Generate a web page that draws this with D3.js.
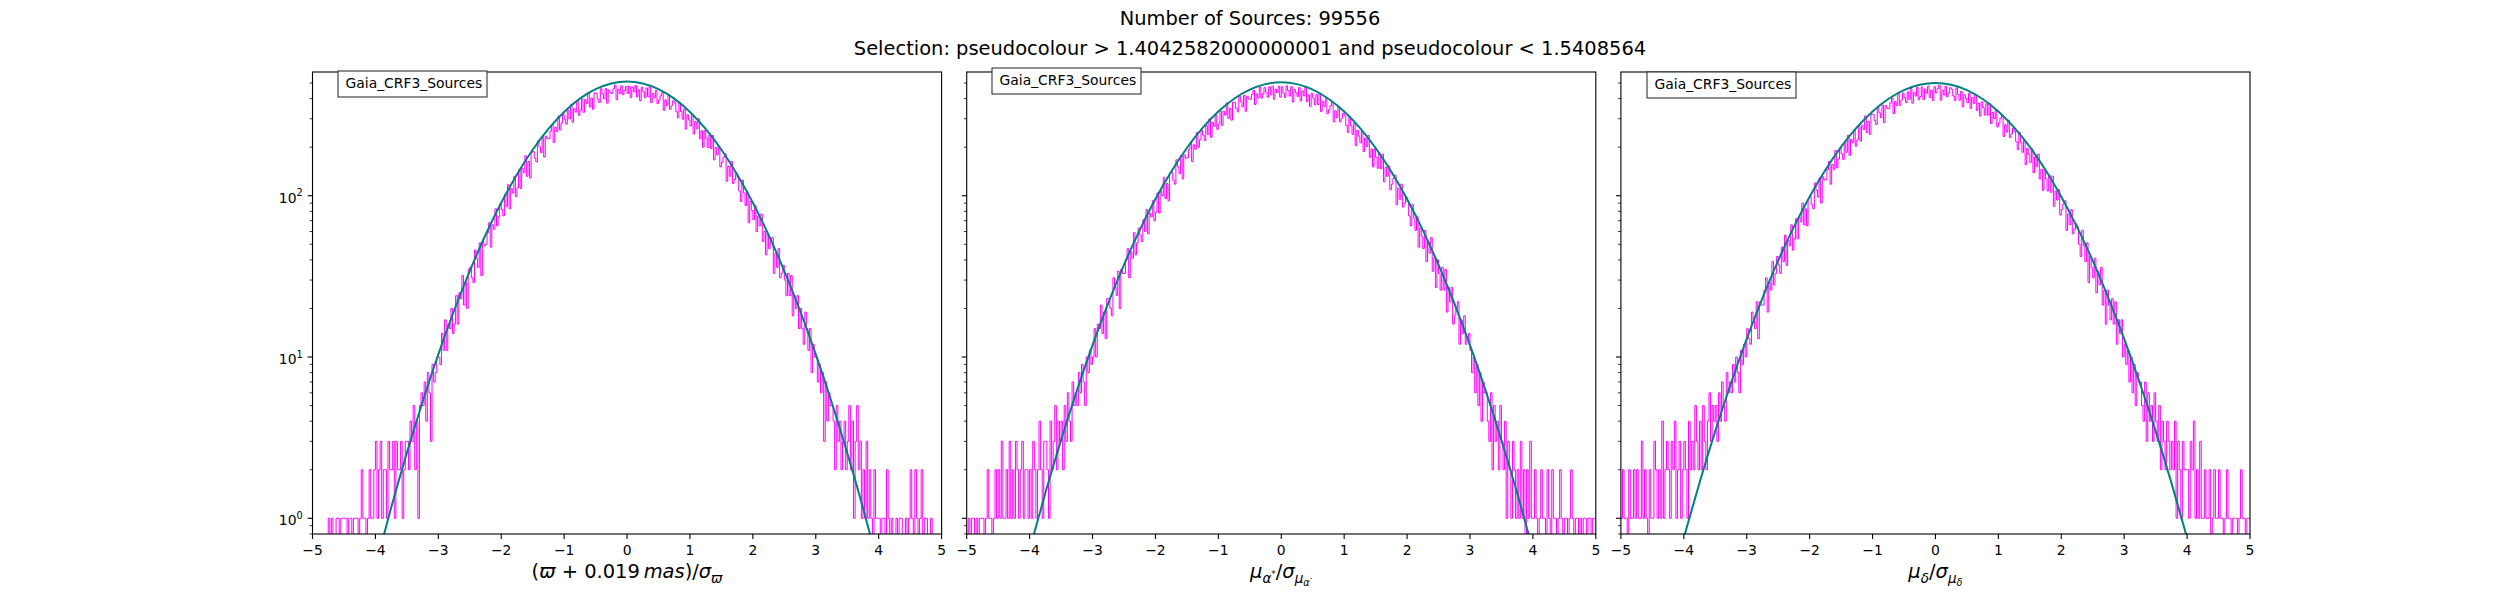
<!DOCTYPE html>
<html><head><meta charset="utf-8">
<script src="https://cdn.jsdelivr.net/npm/d3@7"></script>
<style>body{margin:0;background:#fff}svg{display:block;font-family:"DejaVu Sans",sans-serif}</style>
</head><body><svg id="c" width="2500" height="600"></svg>
<script>
const titleLines = ["Number of Sources: 99556", "Selection: pseudocolour > 1.4042582000000001 and pseudocolour < 1.5408564"];
const legendLabel = "Gaia_CRF3_Sources";
const xTicks = [-5,-4,-3,-2,-1,0,1,2,3,4,5];
const xTickLabels = ["\u22125","\u22124","\u22123","\u22122","\u22121","0","1","2","3","4","5"];
const yMajorTicks = [1,10,100];
const yTickExponents = ["0","1","2"];
const yMinorTicks = [0.8,0.9,2,3,4,5,6,7,8,9,20,30,40,50,60,70,80,90,200,300,400,500];
const binStart = -5, binWidth = 0.025, binCount = 400;

const countsParallax = [
0,0,0,0,0,0,0,0,0,0,
1,0,1,0,0,1,1,0,1,1,
1,1,0,1,1,0,1,1,1,0,
1,2,1,1,0,1,2,1,1,2,
3,1,2,3,1,2,2,1,3,2,
2,3,1,3,2,2,3,1,2,3,
3,2,4,3,5,2,4,1,5,6,
5,7,4,8,6,3,9,7,8,10,
10,9,14,11,17,11,16,15,20,14,
16,24,16,25,23,32,21,29,20,35,
36,31,29,46,41,36,51,32,52,49,
50,59,68,48,66,62,83,65,74,89,
82,75,102,86,117,83,111,104,132,99,
112,145,111,148,139,177,132,163,129,186,
188,171,162,219,201,185,232,174,234,225,
226,252,277,214,266,250,312,256,282,320,
298,278,338,299,366,286,346,330,386,315,
338,397,329,394,372,435,355,403,344,434,
432,398,379,461,427,400,461,375,453,436,
431,460,485,394,456,429,480,423,449,476,
430,478,407,471,441,482,410,453,388,471,
440,405,465,411,473,378,431,405,450,373,
393,416,435,339,393,361,420,344,361,388,
377,332,304,376,333,298,345,259,318,295,
271,316,242,289,260,300,226,253,200,254,
228,199,238,196,236,167,199,179,203,151,
161,173,182,123,152,132,163,119,126,137,
129,107,92,125,104,87,106,68,92,81,
71,87,60,75,65,77,52,60,43,58,
47,52,55,33,44,36,47,31,33,37,
30,24,33,24,32,18,24,20,24,15,
20,15,12,19,15,11,15,8,12,10,
10,7,9,6,8,3,7,4,6,5,
5,4,2,5,3,4,2,3,4,2,
3,5,2,4,1,3,5,2,3,1,
2,1,3,1,2,1,0,2,1,1,
1,0,1,1,0,2,1,0,1,0,
0,1,0,1,1,0,0,1,0,1,
2,1,0,2,1,0,1,2,0,1,
1,0,0,1,0,0,0,0,0,0];

const countsPmra = [
0,1,0,1,1,0,1,0,1,1,
1,0,1,2,1,1,0,1,2,1,
2,1,3,1,1,2,1,3,1,2,
1,3,2,1,2,3,1,2,2,1,
2,1,3,2,1,2,4,2,1,3,
3,2,1,4,2,3,5,2,4,3,
4,2,5,3,6,4,3,7,5,6,
5,8,6,9,7,5,10,8,11,9,
10,15,10,16,15,21,14,19,13,23,
23,20,18,31,27,24,34,20,35,33,
33,40,47,31,45,41,59,43,51,63,
57,52,71,60,82,58,78,74,93,70,
79,104,78,107,100,130,96,119,93,138,
140,125,118,167,151,137,178,127,179,171,
172,194,215,163,207,194,247,200,222,255,
237,220,273,240,300,230,284,270,321,258,
279,335,273,334,316,376,302,348,294,380,
380,349,331,414,382,356,419,334,414,399,
396,425,450,368,427,404,472,403,429,468,
439,408,473,422,478,397,458,435,476,409,
474,432,407,480,449,415,474,381,456,435,
413,468,387,446,416,469,383,421,358,432,
403,366,424,368,429,333,384,357,400,323,
341,362,379,287,336,305,359,287,302,325,
314,273,247,311,271,240,280,205,255,234,
213,252,188,228,202,236,173,195,151,195,
173,148,183,147,181,122,150,132,153,109,
118,128,134,88,111,95,118,85,90,98,
92,75,65,88,73,61,74,48,63,56,
47,61,39,52,44,55,34,41,27,40,
33,26,36,26,35,19,27,22,27,16,
18,20,22,12,17,14,18,12,13,14,
11,8,10,6,9,5,8,4,7,6,
6,4,3,6,2,5,3,4,2,5,
3,2,4,1,3,2,1,3,2,1,
2,1,3,1,2,0,2,1,3,1,
1,2,1,0,1,2,1,1,0,2,
1,0,2,1,1,0,1,2,1,0,
1,1,0,1,2,1,0,1,1,0,
1,0,1,1,0,1,1,0,1,1];

const countsPmdec = [
1,2,1,1,0,2,1,1,2,1,
2,1,1,3,1,2,1,0,2,1,
1,3,2,1,2,1,4,1,2,3,
2,1,3,2,4,1,2,3,1,2,
3,2,1,4,2,3,2,5,3,2,
4,2,5,3,2,4,6,3,5,4,
5,3,6,4,7,5,4,8,6,7,
6,9,7,10,8,6,11,9,12,10,
15,13,12,19,17,15,22,13,22,21,
21,26,31,19,29,26,39,28,33,42,
37,33,48,39,57,37,53,49,66,46,
54,72,54,74,69,90,66,83,65,96,
99,88,83,120,108,98,129,90,131,125,
126,145,163,118,156,145,191,149,169,198,
182,168,213,186,237,178,224,213,257,203,
222,272,218,273,257,312,246,289,240,319,
320,292,277,356,327,304,364,284,362,348,
347,377,404,323,384,362,432,364,392,433,
405,378,441,396,462,375,435,415,469,394,
412,472,395,459,432,478,407,452,389,474,
434,461,484,391,450,421,476,410,433,467,
457,415,389,466,424,391,444,356,422,401,
377,431,348,406,374,426,338,374,312,382,
352,316,371,316,372,280,328,301,339,267,
283,302,316,233,276,248,294,230,242,262,
251,216,193,247,213,186,220,156,197,180,
161,195,139,174,152,181,127,146,108,145,
127,107,134,105,132,86,107,94,109,76,
82,89,93,61,77,66,82,58,62,67,
64,50,42,61,49,39,51,29,42,36,
31,41,25,34,28,36,21,26,16,26,
21,17,23,16,22,12,17,14,17,10,
12,9,11,7,10,6,9,5,8,7,
7,5,4,7,3,6,4,5,3,6,
4,3,5,2,4,3,2,4,3,2,
3,2,4,1,3,2,1,3,2,2,
2,1,3,2,4,1,2,1,3,1,
1,2,1,1,2,0,1,2,1,1,
2,1,1,0,1,2,1,1,0,1,
1,1,0,1,2,1,1,0,1,1];

const curveX = [-5,-4.75,-4.5,-4.25,-4,-3.75,-3.5,-3.25,-3,-2.75,-2.5,-2.25,-2,-1.75,-1.5,-1.25,-1,-0.75,-0.5,-0.25,0,
  0.25,0.5,0.75,1,1.25,1.5,1.75,2,2.25,2.5,2.75,3,3.25,3.5,3.75,4,4.25,4.5,4.75,5];
const curveParallax = [0.0102,0.0294,0.080,0.206,0.502,1.162,2.545,5.28,10.38,19.35,34.1,57.1,90.4,135.6,192.7,259.4,330.9,399.8,457.7,496.4,510,
  496.4,457.7,399.8,330.9,259.4,192.7,135.6,90.4,57.1,34.1,19.35,10.38,5.28,2.545,1.162,0.502,0.206,0.080,0.0294,0.0102];
const curvePmra = [0.015,0.0414,0.1086,0.270,0.639,1.435,3.054,6.17,11.84,21.6,37.3,61.2,95.3,140.8,197.6,263.2,332.8,399.4,455.0,492.0,505,
  492.0,455.0,399.4,332.8,263.2,197.6,140.8,95.3,61.2,37.3,21.6,11.84,6.17,3.054,1.435,0.639,0.270,0.1086,0.0414,0.015];
const curvePmdec = [0.0196,0.0527,0.135,0.327,0.757,1.663,3.47,6.88,12.97,23.2,39.6,64.1,98.6,144.3,200.6,265.2,333.2,398.0,451.8,487.5,500,
  487.5,451.8,398.0,333.2,265.2,200.6,144.3,98.6,64.1,39.6,23.2,12.97,6.88,3.47,1.663,0.757,0.327,0.135,0.0527,0.0196];

const svg = d3.select("#c");
const W = 2500, H = 600;
const plotTop = 72, plotBottom = 534;
const panelW = 629.1;
const lefts = [312.5, 966.7, 1620.9];
const legendPos = [[338, 71], [992, 68], [1647, 72]];
const TICK_FS = 13.9, LABEL_FS = 19.44;

svg.append("rect").attr("width", W).attr("height", H).attr("fill", "#fff");

const titleG = svg.append("g");
titleLines.forEach((t, i) => {
  titleG.append("text").attr("x", 1250).attr("y", i === 0 ? 24.5 : 55)
    .attr("text-anchor", "middle").attr("font-size", LABEL_FS).attr("fill", "#000").text(t);
});

const y = d3.scaleLog().domain([0.799, 585]).range([plotBottom, plotTop]);

function rich(textSel, segs, fs) {
  let prev = 0;
  segs.forEach(s => {
    const off = s.off || 0;
    const ts = textSel.append("tspan").text(s.t)
      .attr("font-size", fs * (s.sz || 1))
      .attr("dy", off - prev);
    if (s.it) ts.attr("font-style", "italic");
    prev = off;
  });
}

const labelSpecs = [
  [{t:"("},{t:"\u03D6",it:1},{t:" + "},{t:"0.019\u2009"},{t:"mas",it:1},{t:")/"},{t:"\u03C3",it:1},{t:"\u03D6",it:1,sz:0.7,off:4.5}],
  [{t:"\u03BC",it:1},{t:"\u03B1",it:1,sz:0.7,off:4.5},{t:"*",sz:0.45,off:-1},{t:"/",off:0},{t:"\u03C3",it:1},{t:"\u03BC",it:1,sz:0.7,off:4.5},{t:"\u03B1",it:1,sz:0.5,off:8},{t:"\u00B7",sz:0.45,off:4}],
  [{t:"\u03BC",it:1},{t:"\u03B4",it:1,sz:0.7,off:4.5},{t:"/",off:0},{t:"\u03C3",it:1},{t:"\u03BC",it:1,sz:0.7,off:4.5},{t:"\u03B4",it:1,sz:0.5,off:8}]
];

const panels = [
  {counts: countsParallax, curve: curveParallax},
  {counts: countsPmra, curve: curvePmra},
  {counts: countsPmdec, curve: curvePmdec}
];

panels.forEach((p, k) => {
  const L = lefts[k];
  const x = d3.scaleLinear().domain([-5, 5]).range([L, L + panelW]);
  const g = svg.append("g");
  const clipId = "clip" + k;
  svg.append("clipPath").attr("id", clipId).append("rect")
    .attr("x", L).attr("y", plotTop).attr("width", panelW).attr("height", plotBottom - plotTop);

  const pts = p.counts.map((c, i) => [binStart + i * binWidth, c]);
  pts.push([binStart + binCount * binWidth, p.counts[p.counts.length - 1]]);
  const stepLine = d3.line()
    .x(d => x(d[0]))
    .y(d => y(Math.max(d[1], 0.05)))
    .curve(d3.curveStepAfter);
  g.append("path").attr("clip-path", `url(#${clipId})`)
    .attr("d", stepLine(pts)).attr("fill", "none")
    .attr("stroke", "#ff00ff").attr("stroke-width", 1);

  const cl = d3.line().x((d, i) => x(curveX[i])).y(d => y(d)).curve(d3.curveNatural);
  g.append("path").attr("clip-path", `url(#${clipId})`)
    .attr("d", cl(p.curve)).attr("fill", "none")
    .attr("stroke", "#008080").attr("stroke-width", 2);

  g.append("rect").attr("x", L).attr("y", plotTop).attr("width", panelW).attr("height", plotBottom - plotTop)
    .attr("fill", "none").attr("stroke", "#000").attr("stroke-width", 1.1);

  xTicks.forEach((t, i) => {
    g.append("line").attr("x1", x(t)).attr("x2", x(t)).attr("y1", plotBottom).attr("y2", plotBottom + 4.9)
      .attr("stroke", "#000").attr("stroke-width", 1.1);
    g.append("text").attr("x", x(t)).attr("y", plotBottom + 20.5).attr("text-anchor", "middle")
      .attr("font-size", TICK_FS).attr("fill", "#000").text(xTickLabels[i]);
  });

  yMajorTicks.forEach((t, i) => {
    g.append("line").attr("x1", L).attr("x2", L - 4.9).attr("y1", y(t)).attr("y2", y(t))
      .attr("stroke", "#000").attr("stroke-width", 1.1);
    if (k === 0) {
      const tx = g.append("text").attr("x", L - 9.8).attr("y", y(t) + 7)
        .attr("text-anchor", "end").attr("font-size", TICK_FS).attr("fill", "#000");
      rich(tx, [{t:"10"},{t:yTickExponents[i],sz:0.7,off:-6.5}], TICK_FS);
    }
  });
  yMinorTicks.forEach(t => {
    g.append("line").attr("x1", L).attr("x2", L - 2.8).attr("y1", y(t)).attr("y2", y(t))
      .attr("stroke", "#000").attr("stroke-width", 0.8);
  });

  const xl = g.append("text").attr("x", L + panelW / 2).attr("y", 578)
    .attr("text-anchor", "middle").attr("font-size", LABEL_FS).attr("fill", "#000");
  rich(xl, labelSpecs[k], LABEL_FS);

  const [lx, ly] = legendPos[k];
  g.append("rect").attr("x", lx).attr("y", ly).attr("width", 149).attr("height", 26)
    .attr("fill", "#fff").attr("stroke", "#333").attr("stroke-width", 1.1);
  g.append("text").attr("x", lx + 7.5).attr("y", ly + 17.3).attr("font-size", TICK_FS)
    .attr("fill", "#000").text(legendLabel);
});
</script></body></html>
